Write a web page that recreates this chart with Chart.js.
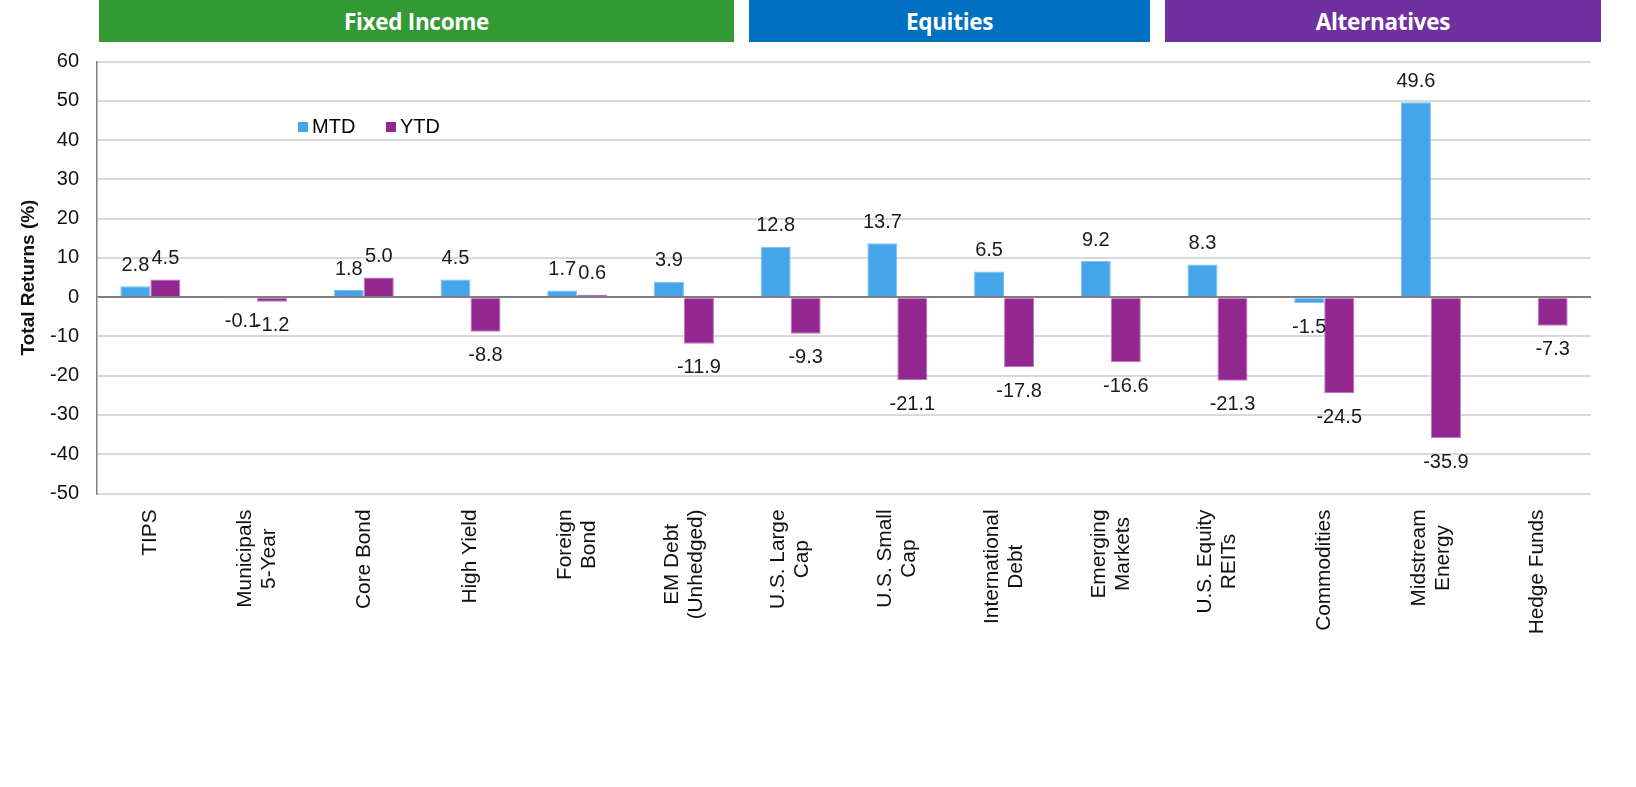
<!DOCTYPE html>
<html><head><meta charset="utf-8">
<script src="https://cdn.jsdelivr.net/npm/chart.js@4"></script>
<style>
html,body{margin:0;padding:0;background:#fff;}
#wrap{position:relative;width:1636px;height:787px;}
canvas{position:absolute;left:0;top:0;}
.banner{position:absolute;top:0;height:42px;color:#fff;font-family:"Open Sans",sans-serif;font-weight:700;font-size:22.5px;display:flex;align-items:center;justify-content:center;letter-spacing:-0.3px;}
.leg{position:absolute;font-family:"Liberation Sans",Arial,sans-serif;font-size:20px;color:#000;display:flex;align-items:center;}
.sw{display:inline-block;width:10px;height:10px;margin-right:4px;}
</style></head>
<body><div id="wrap">
<canvas id="c" width="1636" height="787"></canvas>
<div class="banner" style="left:99px;width:635px;background:#339933;">Fixed Income</div>
<div class="banner" style="left:749px;width:401px;background:#0070c0;">Equities</div>
<div class="banner" style="left:1165px;width:436px;background:#7030a0;">Alternatives</div>
<div class="leg" style="left:298px;top:115px;"><span class="sw" style="background:#45a5ea"></span>MTD</div>
<div class="leg" style="left:386px;top:115px;"><span class="sw" style="background:#92278f"></span>YTD</div>
</div>
<script>
const categories = [["TIPS"],["Municipals","5-Year"],["Core Bond"],["High Yield"],["Foreign","Bond"],["EM Debt","(Unhedged)"],["U.S. Large","Cap"],["U.S. Small","Cap"],["International","Debt"],["Emerging","Markets"],["U.S. Equity","REITs"],["Commodities"],["Midstream","Energy"],["Hedge Funds"]];
const mtd = [2.8,-0.1,1.8,4.5,1.7,3.9,12.8,13.7,6.5,9.2,8.3,-1.5,49.6,null];
const ytd = [4.5,-1.2,5.0,-8.8,0.6,-11.9,-9.3,-21.1,-17.8,-16.6,-21.3,-24.5,-35.9,-7.3];
const yMin = -50, yMax = 60, yStep = 10;

const FONT = "'Liberation Sans', Arial, sans-serif";

const labelPlugin = {
  id:'vals',
  afterDatasetsDraw(chart){
    const ctx = chart.ctx;
    ctx.save();
    ctx.font = "20px " + FONT;
    ctx.fillStyle = "#1a1a1a";
    ctx.textAlign = "center";
    ctx.textBaseline = "middle";
    chart.data.datasets.forEach((ds,i)=>{
      const meta = chart.getDatasetMeta(i);
      meta.data.forEach((bar,j)=>{
        const v = ds.data[j];
        if (v === null || v === undefined) return;
        const y = v >= 0 ? bar.y - 21 : bar.y + 24;
        ctx.fillText(v.toFixed(1), bar.x, y);
      });
    });
    // category labels, rotated, each line centred on the longest
    const xs = chart.scales.x;
    const top = xs.top + 16;
    const spacing = 24;
    ctx.font = "20.8px " + FONT;
    ctx.fillStyle = "#111";
    chart.data.labels.forEach((lines,i)=>{
      const cx = xs.getPixelForValue(i);
      let maxW = 0;
      lines.forEach(l=>{ maxW = Math.max(maxW, ctx.measureText(l).width); });
      const n = lines.length;
      lines.forEach((l,k)=>{
        const lx = cx + (k - (n-1)/2) * spacing;
        const ly = top + maxW/2;
        ctx.save();
        ctx.translate(lx, ly);
        ctx.rotate(-Math.PI/2);
        ctx.fillText(l, 0, 0);
        ctx.restore();
      });
    });
    ctx.restore();
  }
};

new Chart(document.getElementById('c'), {
  type:'bar',
  data:{
    labels: categories,
    datasets:[
      {label:'MTD', data:mtd, backgroundColor:'#45a5ea', borderColor:'#7cc0f0', borderWidth:1, borderSkipped:'start'},
      {label:'YTD', data:ytd, backgroundColor:'#92278f', borderColor:'#c070c0', borderWidth:1, borderSkipped:'start'}
    ]
  },
  options:{
    responsive:false,
    animation:false,
    devicePixelRatio:1,
    layout:{padding:{left:0,right:45,top:61.5,bottom:0}},
    datasets:{bar:{categoryPercentage:0.5625, barPercentage:1.0}},
    plugins:{legend:{display:false}, tooltip:{enabled:false}},
    scales:{
      x:{
        grid:{display:false, drawTicks:false},
        border:{display:false},
        ticks:{display:false},
        afterFit(s){ s.height = 787 - 493.5; }
      },
      y:{
        min:yMin, max:yMax,
        ticks:{stepSize:yStep, padding:18, color:'#111', font:{family:FONT, size:20}},
        grid:{drawTicks:false, lineWidth:2,
          color:(c)=> c.tick && c.tick.value === 0 ? '#7f7f7f' : '#d9d9d9'},
        border:{display:true, color:'#7f7f7f', width:1.5},
        title:{display:true, text:'Total Returns (%)', color:'#111',
          font:{family:FONT, size:19, weight:'bold'}, padding:{top:17,bottom:0}},
        afterFit(s){ s.width = 97; }
      }
    }
  },
  plugins:[labelPlugin]
});
</script>
</body></html>
